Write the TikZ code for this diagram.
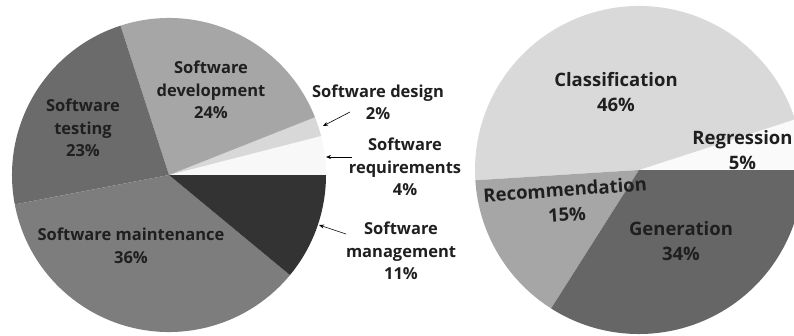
\documentclass[tikz,border=0pt]{standalone}
\usepackage{fontspec}
\setmainfont{Open Sans}
\usetikzlibrary{arrows.meta}
\definecolor{cReq}{HTML}{F8F8F8}
\definecolor{cDes}{HTML}{D8D8D8}
\definecolor{cDev}{HTML}{A6A6A6}
\definecolor{cTest}{HTML}{6B6B6B}
\definecolor{cMaint}{HTML}{7D7D7D}
\definecolor{cMgmt}{HTML}{333333}
\definecolor{cReg}{HTML}{FAFAFA}
\definecolor{cCla}{HTML}{D9D9D9}
\definecolor{cRec}{HTML}{A6A6A6}
\definecolor{cGen}{HTML}{666666}
\tikzset{
  lbl/.style={font=\fontsize{16.5}{22.5}\selectfont\bfseries, align=center, inner sep=0pt, text=black!88},
  rlbl/.style={font=\fontsize{18.5}{25}\selectfont\bfseries, align=center, inner sep=0pt, text=black!88},
  pointer/.style={-{Stealth[length=5pt,width=4pt]}, line width=0.6pt, black}
}
\newcommand{\pieslice}[5]{% center, radius, start, end, color
  \fill[#5] (#1) -- ++(#3:#2) arc[start angle=#3, end angle=#4, radius=#2] -- cycle;}
\begin{document}
\begin{tikzpicture}[x=1pt,y=1pt]
\useasboundingbox (0,0) rectangle (794,335);
\clip (0,0) rectangle (794,335);
\fill[white] (0,0) rectangle (794,335);
% left pie
\coordinate (L) at (169,160);
\pieslice{L}{157}{0}{14.4}{cReq}
\pieslice{L}{157}{14.4}{21.6}{cDes}
\pieslice{L}{157}{21.6}{108}{cDev}
\pieslice{L}{157}{108}{190.8}{cTest}
\pieslice{L}{157}{190.8}{320.4}{cMaint}
\pieslice{L}{157}{320.4}{360}{cMgmt}
% right pie
\coordinate (R) at (639,165);
\pieslice{R}{164}{0}{18}{cReg}
\pieslice{R}{164}{18}{183.6}{cCla}
\pieslice{R}{164}{183.6}{237.6}{cRec}
\pieslice{R}{164}{237.6}{360}{cGen}
% left labels
\node[lbl] (dev) at (211,245) {Software\\development\\24\%};
\node[lbl] (test) at (83,207) {Software\\testing\\23\%};
\node[lbl] (maint) at (131,89) {Software maintenance\\36\%};
\node[lbl] (des) at (378,232.5) {Software design\\2\%};
\node[lbl] (req) at (405,168) {Software\\requirements\\4\%};
\node[lbl] (mgmt) at (401,84) {Software\\management\\11\%};
% right labels
\node[rlbl] (cla) at (616,243) {Classification\\46\%};
\node[rlbl] (reg) at (742.5,185) {Regression\\5\%};
\node[rlbl, rotate=4] (rec) at (566,133) {Recommendation\\15\%};
\node[rlbl] (gen) at (681,94) {Generation\\34\%};
% pointers
\coordinate (desA) at (350,223);
\coordinate (desB) at (323,209);
\coordinate (reqA) at (352,178);
\coordinate (reqB) at (326,178);
\coordinate (mgmtA) at (346,101);
\coordinate (mgmtB) at (319,110);
\draw[pointer] (desA) -- (desB);
\draw[pointer] (reqA) -- (reqB);
\draw[pointer] (mgmtA) -- (mgmtB);
\end{tikzpicture}
\end{document}
